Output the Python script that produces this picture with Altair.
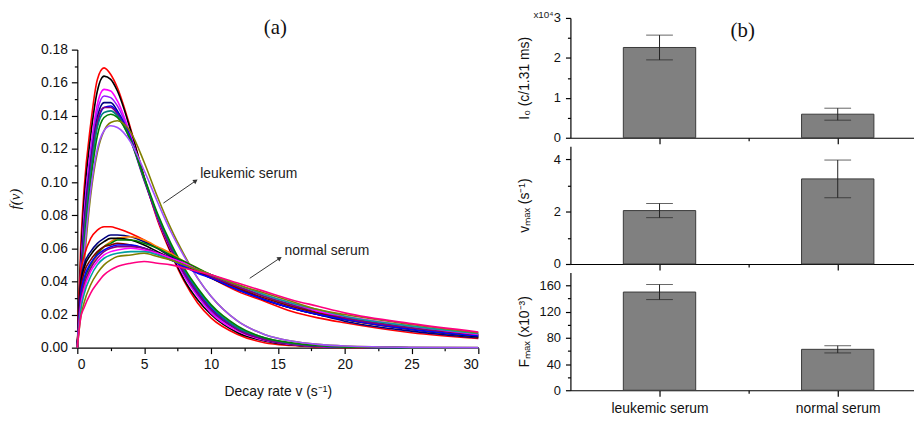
import altair as alt
import pandas as pd

# ---------------- panel (a): decay-rate distributions ----------------
nu = [0, 0.25, 0.5, 1, 1.5, 2, 2.5, 3, 4, 5, 6, 7, 8, 9, 10, 12, 14, 16, 18, 20, 25, 30]

leuk_red     = [0, .060, .095, .135, .162, .169, .165, .157, .132, .103, .077, .057, .040, .027, .018, .008, .003, .0013, .0005, .0002, 0, 0]
leuk_black   = [0, .052, .088, .128, .155, .164, .162, .155, .131, .103, .078, .058, .041, .029, .020, .009, .004, .0016, .0007, .0003, 0, 0]
leuk_magenta = [0, .045, .080, .120, .147, .156, .155, .149, .128, .102, .078, .059, .043, .031, .021, .010, .0045, .002, .0008, .0003, 0, 0]
leuk_violet  = [0, .042, .077, .117, .143, .152, .151, .146, .127, .102, .079, .060, .044, .032, .022, .011, .005, .0022, .0009, .0004, 0, 0]
leuk_navy    = [0, .040, .073, .112, .139, .148, .148, .143, .126, .102, .079, .060, .045, .033, .023, .011, .005, .0023, .001, .0004, 0, 0]
leuk_blue    = [0, .036, .068, .108, .135, .145, .146, .142, .126, .102, .080, .061, .046, .034, .024, .012, .0055, .0025, .001, .0004, 0, 0]
leuk_purple  = [0, .038, .070, .110, .137, .145, .145, .141, .125, .101, .079, .060, .045, .033, .023, .011, .005, .0023, .001, .0004, 0, 0]
leuk_teal    = [0, .034, .065, .105, .133, .142, .143, .140, .125, .102, .080, .062, .047, .035, .025, .012, .006, .0027, .0012, .0005, 0, 0]
leuk_green   = [0, .030, .060, .100, .128, .139, .141, .139, .125, .103, .081, .063, .048, .036, .026, .013, .006, .003, .0013, .0005, 0, 0]
leuk_olive   = [0, .025, .050, .092, .118, .131, .136, .137, .130, .112, .091, .072, .056, .042, .031, .016, .008, .004, .002, .001, .0002, 0]
leuk_lilac   = [0, .028, .055, .095, .120, .131, .134, .133, .124, .107, .088, .070, .055, .042, .031, .016, .008, .004, .002, .001, .0002, 0]

norm_red     = [0, .045, .055, .066, .071, .073, .073, .072, .069, .065, .060, .055, .050, .046, .042, .034, .028, .022, .018, .015, .009, .0055]
norm_navy    = [0, .040, .050, .058, .063, .066, .068, .068, .067, .064, .060, .055, .051, .047, .043, .036, .029, .024, .020, .016, .010, .006]
norm_orange  = [0, .025, .036, .048, .056, .061, .064, .066, .067, .065, .061, .057, .052, .048, .044, .037, .031, .025, .021, .017, .011, .0065]
norm_black   = [0, .038, .048, .056, .061, .064, .066, .066, .065, .062, .058, .054, .050, .046, .042, .035, .029, .024, .020, .017, .011, .0065]
norm_green   = [0, .030, .040, .050, .057, .061, .063, .065, .065, .063, .060, .056, .052, .048, .044, .037, .031, .026, .021, .018, .012, .0075]
norm_wine    = [0, .035, .045, .053, .058, .061, .062, .063, .062, .060, .057, .053, .050, .046, .043, .036, .030, .025, .021, .018, .012, .0075]
norm_blue    = [0, .032, .042, .051, .056, .059, .061, .062, .062, .060, .057, .053, .049, .045, .042, .035, .029, .024, .020, .017, .011, .007]
norm_purple  = [0, .028, .038, .048, .054, .058, .060, .061, .061, .060, .057, .054, .050, .047, .043, .037, .031, .026, .022, .018, .012, .008]
norm_magenta = [0, .025, .035, .046, .052, .056, .058, .059, .060, .059, .057, .054, .051, .047, .044, .038, .032, .027, .022, .019, .013, .008]
norm_cyan    = [0, .022, .032, .043, .050, .054, .056, .057, .058, .058, .056, .053, .050, .047, .044, .038, .032, .027, .023, .019, .013, .0085]
norm_olive   = [0, .018, .027, .038, .045, .050, .053, .055, .056, .057, .055, .053, .050, .047, .044, .038, .033, .028, .023, .020, .014, .009]
norm_pink    = [0, .018, .024, .033, .039, .044, .047, .049, .051, .052, .051, .050, .048, .046, .044, .039, .034, .029, .025, .021, .0145, .0095]

curves = [
    ("L red", "#ff0000", leuk_red), ("L black", "#000000", leuk_black),
    ("L magenta", "#ff00ff", leuk_magenta), ("L violet", "#9a1aff", leuk_violet),
    ("L navy", "#000080", leuk_navy), ("L blue", "#0000ff", leuk_blue),
    ("L purple", "#800080", leuk_purple), ("L teal", "#008080", leuk_teal),
    ("L green", "#008000", leuk_green), ("L olive", "#808000", leuk_olive),
    ("L lilac", "#a050ff", leuk_lilac),
    ("N red", "#ff0000", norm_red), ("N navy", "#000080", norm_navy),
    ("N orange", "#ff8000", norm_orange), ("N black", "#000000", norm_black),
    ("N green", "#008000", norm_green), ("N wine", "#800000", norm_wine),
    ("N blue", "#0000ff", norm_blue), ("N purple", "#800080", norm_purple),
    ("N magenta", "#ff00ff", norm_magenta), ("N cyan", "#00a0a0", norm_cyan),
    ("N olive", "#808000", norm_olive), ("N pink", "#ff0080", norm_pink),
]

rows = []
for name, col, ys in curves:
    for xv, yv in zip(nu, ys):
        rows.append({"curve": name, "nu": xv, "f": yv})
df_curves = pd.DataFrame(rows)
curve_names = [c[0] for c in curves]
curve_colors = [c[1] for c in curves]

# annotations (data units)
ann_text = ["leukemic serum", "normal serum"]
ann_tx = [9.2, 15.5]
ann_ty = [0.1047, 0.0586]
arrow_x = [6.44, 12.9]
arrow_y = [0.0873, 0.0419]
arrow_x2 = [8.81, 15.1]
arrow_y2 = [0.1005, 0.0538]

# ---------------- panel (b): bar charts ----------------
groups = ["leukemic serum", "normal serum"]
pos = [1, 2]
I0 = [2.26, 0.59]
I0_err = [0.31, 0.15]
vmax = [2.04, 3.25]
vmax_err = [0.27, 0.72]
Fmax = [150, 62.5]
Fmax_err = [11.5, 5.5]

SANS = "Liberation Sans"
SERIF = "Liberation Serif"

# ---------- left chart ----------
W_A, H_A = 405, 301
xs_a = alt.Scale(domain=[0, 30], nice=False, zero=False)
ys_a = alt.Scale(domain=[0, 0.18], nice=False, zero=False)
x_tick_vals = [i * 2.5 for i in range(13)]
y_tick_vals = [round(i * 0.01, 2) for i in range(19)]

xax_a = alt.Axis(
    values=x_tick_vals,
    labelExpr="datum.value % 5 == 0 ? format(datum.value, 'd') : ''",
    tickSize={"condition": {"test": "datum.value % 5 == 0", "value": 6}, "value": 3},
    labelOverlap=False, labelFontSize=14, labelPadding=4,
    title="Decay rate v (s⁻¹)", titleFontSize=14, titleX=W_A / 2, titleY=44,
    titleBaseline="middle",
)
ymaj = "round(datum.value * 100) % 2 == 0"
yax_a = alt.Axis(
    values=y_tick_vals,
    labelExpr=f"{ymaj} ? format(datum.value, '.2f') : ''",
    tickSize={"condition": {"test": ymaj, "value": 6}, "value": 3},
    labelOverlap=False, labelFontSize=14, labelPadding=4,
    title="f(v)", titleFont=SERIF, titleFontStyle="italic", titleFontSize=15,
    titleX=-63, titleY=H_A / 2, titleBaseline="middle",
)

lines = alt.Chart(df_curves).mark_line(strokeWidth=1.6, interpolate="monotone").encode(
    x=alt.X("nu:Q", scale=xs_a, axis=xax_a),
    y=alt.Y("f:Q", scale=ys_a, axis=yax_a),
    color=alt.Color("curve:N", scale=alt.Scale(domain=curve_names, range=curve_colors), legend=None),
)

df_arrows = pd.DataFrame({"x": arrow_x, "y": arrow_y, "x2": arrow_x2, "y2": arrow_y2})
arrow_lines = alt.Chart(df_arrows).mark_rule(color="#333333", strokeWidth=1).encode(
    x=alt.X("x:Q", scale=xs_a, axis=xax_a), y=alt.Y("y:Q", scale=ys_a, axis=yax_a),
    x2="x2:Q", y2="y2:Q",
)
arrow_heads = alt.Chart(df_arrows).mark_point(shape="triangle", filled=True, size=28, angle=56,
                                              color="#333333", opacity=1).encode(
    x=alt.X("x2:Q", scale=xs_a, axis=xax_a), y=alt.Y("y2:Q", scale=ys_a, axis=yax_a),
)
df_ann = pd.DataFrame({"t": ann_text, "x": ann_tx, "y": ann_ty})
ann = alt.Chart(df_ann).mark_text(align="left", baseline="middle", font=SANS, fontSize=14,
                                  color="#222222").encode(
    x=alt.X("x:Q", scale=xs_a, axis=xax_a), y=alt.Y("y:Q", scale=ys_a, axis=yax_a), text="t:N",
)

left_chart = alt.layer(lines, arrow_lines, arrow_heads, ann).properties(width=W_A, height=H_A)

spacer = alt.Chart(pd.DataFrame({"t": ["(a)"]})).mark_text(
    font=SERIF, fontSize=21, color="#111111", baseline="middle"
).encode(text="t:N", x=alt.value(200), y=alt.value(10)).properties(width=W_A, height=24)

left_col = alt.vconcat(spacer, left_chart, spacing=1)

# ---------- bar panels ----------
W_B = 347
xs_b = alt.Scale(domain=[0.5, 2.428], nice=False, zero=False)


def bar_panel(vals, errs, dom, ticks, major, height, title, show_labels, extras=()):
    d = pd.DataFrame({"group": groups, "pos": pos, "value": vals, "err": errs})
    ys = alt.Scale(domain=dom, nice=False, zero=True)
    xax = alt.Axis(
        values=[1, 1.5, 2], labels=show_labels,
        labelExpr="datum.value == 1 ? 'leukemic serum' : (datum.value == 2 ? 'normal serum' : '')",
        tickSize={"condition": {"test": "datum.value == 1.5", "value": 3}, "value": 6},
        labelOverlap=False, labelFontSize=14, labelPadding=5, title=None,
    )
    yax = alt.Axis(
        values=ticks,
        labelExpr=f"{major} ? format(datum.value, 'd') : ''",
        tickSize={"condition": {"test": major, "value": 5}, "value": 3},
        labelOverlap=False, labelFontSize=13, labelPadding=5,
        title=title, titleFontSize=14, titleX=-46, titleY=height / 2, titleBaseline="middle",
    )
    base = alt.Chart(d).transform_calculate(
        x0="datum.pos - 0.203", x1="datum.pos + 0.203",
        lo="datum.value - datum.err", hi="datum.value + datum.err",
    )
    bars = base.mark_bar(color="#808080", stroke="#3a3a3a", strokeWidth=1).encode(
        x=alt.X("x0:Q", scale=xs_b, axis=xax), x2="x1:Q",
        y=alt.Y("value:Q", scale=ys, axis=yax), y2=alt.datum(0),
    )
    rule = base.mark_rule(color="#222222", strokeWidth=1).encode(
        x=alt.X("pos:Q", scale=xs_b, axis=xax),
        y=alt.Y("lo:Q", scale=ys, axis=yax), y2="hi:Q",
    )
    caps = base.transform_fold(["lo", "hi"], as_=["k", "v"]).mark_tick(
        orient="horizontal", size=27, thickness=1, color="#222222"
    ).encode(
        x=alt.X("pos:Q", scale=xs_b, axis=xax),
        y=alt.Y("v:Q", scale=ys, axis=yax),
    )
    return alt.layer(bars, rule, caps, *extras).properties(width=W_B, height=height)


lab = pd.DataFrame({"t": ["x10⁴"], "b": ["(b)"]})
x104 = alt.Chart(lab).mark_text(font=SANS, fontSize=10, align="right", baseline="middle",
                                color="#222222").encode(text="t:N", x=alt.value(-17), y=alt.value(-3))
btxt = alt.Chart(lab).mark_text(font=SERIF, fontSize=21, baseline="middle",
                                color="#111111").encode(text="b:N", x=alt.value(174), y=alt.value(13))

b1 = bar_panel(I0, I0_err, [0, 3], [i * 0.5 for i in range(7)], "datum.value % 1 == 0", 121,
               "I₀ (c/1.31 ms)", False, extras=(x104, btxt))
b2 = bar_panel(vmax, vmax_err, [0, 4.5], [0, 1, 2, 3, 4], "datum.value % 2 == 0", 119,
               "vₘₐₓ (s⁻¹)", False)
b3 = bar_panel(Fmax, Fmax_err, [0, 180], [i * 20 for i in range(9)], "datum.value % 40 == 0", 119,
               "Fₘₐₓ (x10⁻³)", True)

right_col = alt.vconcat(b1, b2, b3, spacing=1.5)

chart = alt.hconcat(left_col, right_col, spacing=35).properties(
    padding={"left": 0, "top": 0, "right": 0, "bottom": 2}
).configure_view(strokeWidth=0).configure_axis(
    grid=False, domainColor="#000000", tickColor="#000000", domainWidth=1.2, tickWidth=1.2,
    labelColor="#111111", titleColor="#111111", labelFont=SANS, titleFont=SANS,
    titleFontWeight="normal",
)

chart.save("out.html", embed_options={"renderer": "svg", "actions": False})
